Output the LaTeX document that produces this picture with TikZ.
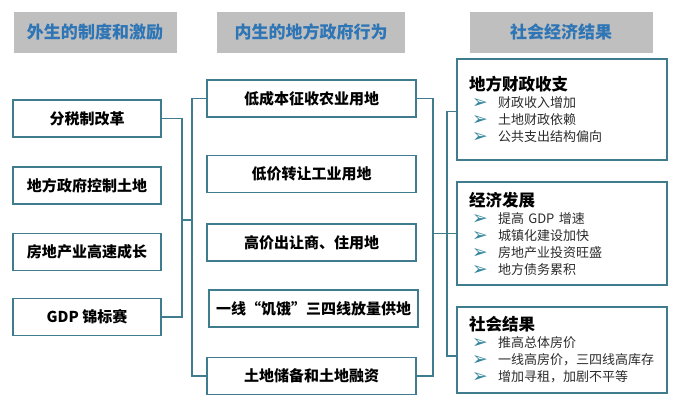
\documentclass[tikz,border=0pt]{standalone}
\usepackage{fontspec}
\setmainfont{Noto Sans CJK SC}
\newfontfamily\symfont{DejaVu Sans}
\usetikzlibrary{positioning}
\definecolor{boxteal}{HTML}{3E7C8E}
\definecolor{headgray}{HTML}{BFBFBF}
\definecolor{headblue}{HTML}{2E75B6}
\definecolor{bulletteal}{HTML}{31859C}
\definecolor{itemgray}{HTML}{2B2B2B}
\newcommand{\itm}[1]{\\\hspace*{3pt}\makebox[26pt][l]{\color{bulletteal}\symfont\fontsize{12.5}{17}\selectfont\raisebox{-1pt}{\scalebox{1.5}{➢}}}#1}

\begin{document}
\begin{tikzpicture}[
  x=1pt, y=-1pt,
  head/.style={fill=headgray, text=headblue, minimum height=41pt, font=\fontsize{17}{20}\selectfont\bfseries},
  box/.style={draw=boxteal, line width=1.3pt, minimum height=37pt, font=\fontsize{15}{18}\selectfont\bfseries},
  lbox/.style={box, minimum width=148pt},
  mbox/.style={box, minimum width=209pt},
  rbox/.style={draw=boxteal, line width=1.3pt, minimum width=210pt, text width=186pt, inner xsep=12pt, align=left, text=itemgray, font=\fontsize{13}{17}\selectfont},
  conn/.style={draw=boxteal, line width=1.3pt}
]
\useasboundingbox (0,0) rectangle (685,415);
% column headers
\node[head, minimum width=163pt] (h1) at (95,32) {外生的制度和激励};
\node[head, minimum width=188pt] (h2) at (311,32) {内生的地方政府行为};
\node[head, minimum width=183pt] (h3) at (561,32) {社会经济结果};
% left column
\node[lbox] (l1) at (87,118.5) {分税制改革};
\node[lbox] (l2) at (87,185.5) {地方政府控制土地};
\node[lbox] (l3) at (87,252) {房地产业高速成长};
\node[lbox] (l4) at (87,317) {GDP 锦标赛};
% middle column
\node[mbox] (m1) at (311.5,98.5) {低成本征收农业用地};
\node[mbox] (m2) at (311.5,174) {低价转让工业用地};
\node[mbox] (m3) at (311.5,242.5) {高价出让商、住用地};
\node[mbox] (m4) at (313.5,308.5) {一线“饥饿”三四线放量供地};
\node[mbox] (m5) at (311.5,376) {土地储备和土地融资};
% right column
\node[rbox, minimum height=101pt] (r1) at (562,109.5) {{\fontsize{16.5}{20}\selectfont\bfseries\color{black}地方财政收支}%
  \itm{财政收入增加}\itm{土地财政依赖}\itm{公共支出结构偏向}};
\node[rbox, minimum height=103pt] (r2) at (562,233.5) {{\fontsize{16.5}{20}\selectfont\bfseries\color{black}经济发展}%
  \itm{提高 GDP 增速}\itm{城镇化建设加快}\itm{房地产业投资旺盛}\itm{地方债务累积}};
\node[rbox, minimum height=86pt] (r3) at (562,350) {{\fontsize{16.5}{20}\selectfont\bfseries\color{black}社会结果}%
  \itm{推高总体房价}\itm{一线高房价，三四线高库存}\itm{增加寻租，加剧不平等}};
% buses
\coordinate (lb) at (182,220);
\coordinate (mb) at (192,220);
\coordinate (mr) at (433,0);
\coordinate (rb) at (447,0);
\draw[conn] (l1.east) -| (lb |- l4.east) -- (l4.east);
\draw[conn] (lb) -- (mb);
\draw[conn] (m1.west) -| (mb |- m5.west) -- (m5.west);
\draw[conn] (m1.east) -| (mr |- m5.east) -- (m5.east);
\draw[conn] (mr |- r2.west) -- (r2.west);
\draw[conn] ([yshift=-2pt]r1.west) -| (rb |- r3.west) |- ([yshift=-6pt]r3.west);
\end{tikzpicture}
\end{document}
